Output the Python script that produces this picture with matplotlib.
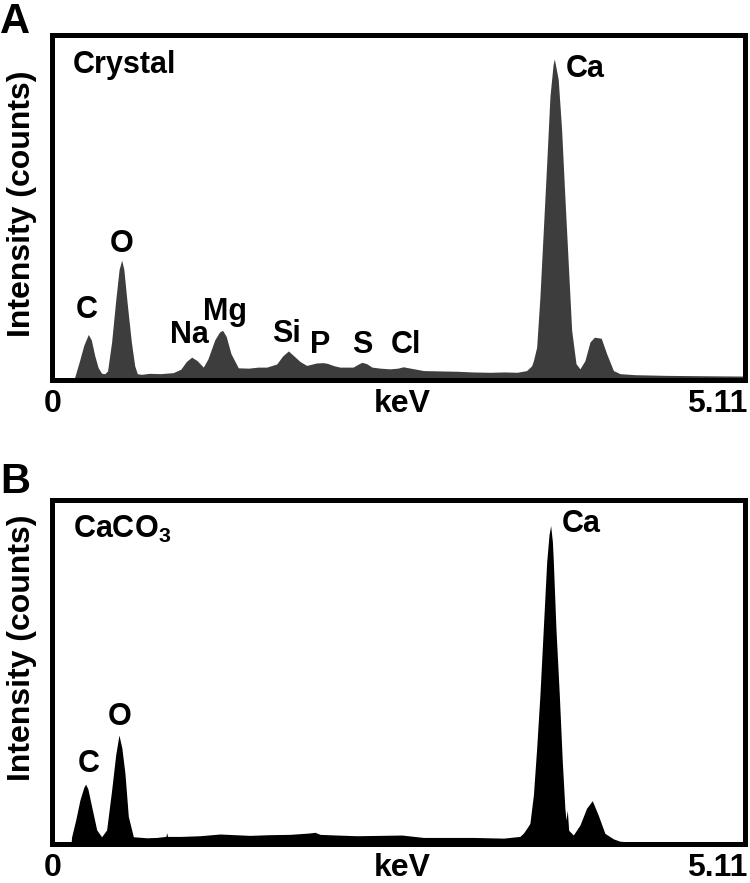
import matplotlib.pyplot as plt

plt.rcParams["font.family"] = ["Liberation Sans", "DejaVu Sans"]
plt.rcParams["mathtext.fontset"] = "custom"
plt.rcParams["mathtext.rm"] = "Liberation Sans"
plt.rcParams["mathtext.bf"] = "Liberation Sans:bold"

E_MAX = 5.11
Y_MAX = 1000

# panel A: crystal spectrum (keV, counts)
crystal_kev = [
    0.0, 0.16, 0.17, 0.20, 0.235, 0.268, 0.29, 0.315, 0.34, 0.366, 0.39, 0.41,
    0.44, 0.47, 0.495, 0.514, 0.53, 0.555, 0.585, 0.61, 0.629, 0.66, 0.72, 0.80,
    0.894, 0.95, 0.99, 1.03, 1.07, 1.116, 1.15, 1.20, 1.235, 1.258, 1.285, 1.32,
    1.374, 1.45, 1.52, 1.583, 1.657, 1.70, 1.743, 1.78, 1.83, 1.878, 1.92, 1.95,
    2.00, 2.03, 2.08, 2.124, 2.22, 2.26, 2.285, 2.32, 2.36, 2.42, 2.49, 2.55,
    2.59, 2.63, 2.74, 2.86, 2.985, 3.10, 3.23, 3.34, 3.43, 3.50, 3.537, 3.55,
    3.574, 3.598, 3.623, 3.648, 3.672, 3.695, 3.704, 3.715, 3.733, 3.758, 3.782,
    3.807, 3.832, 3.864, 3.893, 3.93, 3.967, 4.00, 4.05, 4.09, 4.14, 4.188, 4.30,
    4.533, 4.80, 5.11,
]
crystal_counts = [
    0, 0, 10, 50, 100, 131, 115, 70, 35, 18, 17, 25,
    110, 230, 320, 347, 320, 220, 110, 40, 17, 15, 18, 17,
    20, 30, 52, 65, 55, 36, 60, 115, 138, 143, 125, 75,
    34, 33, 36, 36, 45, 68, 83, 70, 52, 41, 45, 48,
    49, 47, 40, 36, 36, 45, 50, 46, 36, 33, 31, 33,
    37, 34, 26, 25, 24, 22, 21, 22, 21, 26, 40, 55,
    94, 240, 434, 629, 823, 915, 932, 910, 872, 726, 531,
    337, 143, 46, 31, 55, 109, 123, 120, 75, 26, 17, 14,
    12, 11, 10,
]

# panel B: CaCO3 reference spectrum
caco3_kev = [
    0.0, 0.14, 0.145, 0.175, 0.206, 0.235, 0.248, 0.265, 0.293, 0.33, 0.366,
    0.403, 0.44, 0.47, 0.494, 0.515, 0.538, 0.563, 0.60, 0.70, 0.772, 0.84,
    0.846, 0.852, 0.95, 1.091, 1.239, 1.46, 1.60, 1.755, 1.90, 1.939, 1.976,
    2.10, 2.247, 2.58, 2.74, 3.109, 3.33, 3.45, 3.475, 3.50, 3.524, 3.55,
    3.574, 3.598, 3.623, 3.648, 3.665, 3.677, 3.69, 3.697, 3.716, 3.741, 3.763,
    3.782, 3.79, 3.80, 3.81, 3.844, 3.893, 3.942, 3.984, 4.028, 4.077, 4.139,
    4.188, 4.30, 5.11,
]
caco3_counts = [
    0, 0, 21, 70, 128, 165, 174, 160, 108, 41, 21,
    41, 157, 260, 317, 280, 206, 80, 21, 18, 19, 22,
    33, 22, 22, 24, 29, 25, 27, 28, 32, 34, 28,
    26, 24, 26, 19, 19, 17, 22, 31, 45, 60, 143,
    279, 434, 628, 822, 900, 927, 880, 822, 628, 434, 240,
    104, 70, 98, 40, 26, 55, 104, 126, 84, 31, 15,
    8, 5, 5,
]

# peak labels: (text, keV, counts at baseline of text)
crystal_labels = [
    ("C", 0.256, 179), ("O", 0.514, 372), ("Na", 1.014, 106), ("Mg", 1.278, 173),
    ("Si", 1.728, 110), ("P", 1.976, 77), ("S", 2.289, 77), ("Cl", 2.609, 77),
]
caco3_labels = [("C", 0.268, 210), ("O", 0.499, 346)]


def draw_panel(ax, kev, counts, color, labels, sample, ca_pos, ylabel_y):
    ax.fill_between(kev, counts, 0, color=color, linewidth=0)
    ax.set_xlim(0, E_MAX)
    ax.set_ylim(0, Y_MAX)
    ax.set_xticks([])
    ax.set_yticks([])
    for side in ax.spines.values():
        side.set_linewidth(3.6)
    bold = dict(fontweight="bold", fontsize=22)
    for text, x, y in labels:
        ax.text(x, y, text, ha="center", va="baseline", **bold)
    ax.text(ca_pos[0], ca_pos[1], "Ca", ha="left", va="baseline", **bold)
    ax.text(0.03, 0.892, sample, transform=ax.transAxes, ha="left",
            va="baseline", **bold)
    ax.text(-0.043, ylabel_y, "Intensity (counts)", transform=ax.transAxes,
            rotation=90, ha="center", va="center", fontweight="bold", fontsize=23)
    low = dict(transform=ax.transAxes, va="center", fontweight="bold", fontsize=23)
    ax.text(-0.012, -0.07, "0", ha="left", **low)
    ax.text(0.505, -0.07, "keV", ha="center", **low)
    ax.text(1.004, -0.07, "5.11", ha="right", **low)


fig = plt.figure(figsize=(7.5, 8.83), dpi=100)
ax_a = fig.add_axes([0.0693, 0.5702, 0.924, 0.3896])
ax_b = fig.add_axes([0.0693, 0.0442, 0.924, 0.3890])

draw_panel(ax_a, crystal_kev, crystal_counts, "#3d3d3d", crystal_labels,
           "Crystal", (3.786, 880), 0.512)
draw_panel(ax_b, caco3_kev, caco3_counts, "black", caco3_labels,
           r"CaCO$_\mathbf{3}$", (3.756, 908), 0.572)

fig.text(0.0, 1 - 33 / 883, "A", fontweight="bold", fontsize=30, va="baseline")
fig.text(0.0, 1 - 493 / 883, "B", fontweight="bold", fontsize=30, va="baseline")

fig.savefig("out.png", dpi=100)
plt.close(fig)
